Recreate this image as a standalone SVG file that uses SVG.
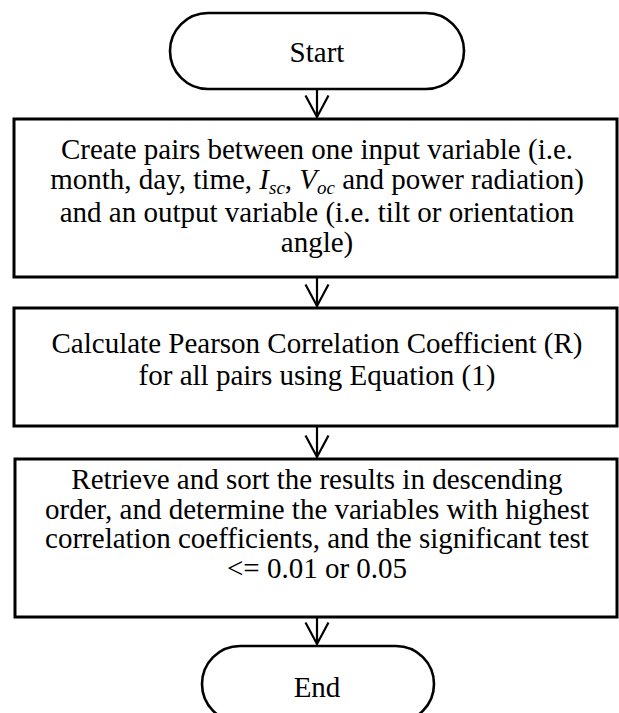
<svg xmlns="http://www.w3.org/2000/svg" width="619" height="713" viewBox="0 0 619 713">
<style>
  .box { fill: #fff; stroke: #000; stroke-width: 3; }
  .term { fill: #fff; stroke: #000; stroke-width: 2.6; }
  .t { font-family: "Liberation Serif", "Times New Roman", serif; font-size: 29px; fill: #000; text-anchor: middle; }
  .it { font-style: italic; }
  .sub { font-style: italic; font-size: 19px; }
  .conn { stroke: #000; stroke-width: 2.2; fill: none; marker-end: url(#v); }
</style>
<defs>
  <marker id="v" markerUnits="userSpaceOnUse" viewBox="-25 -14 28 28" markerWidth="28" markerHeight="28" refX="0" refY="0" orient="auto">
    <path d="M -21.5 -11.5 L 0 0 L -21.5 11.5" fill="none" stroke="#000" stroke-width="2.2" stroke-linejoin="miter"/>
  </marker>
</defs>
<rect width="619" height="713" fill="#fff"/>

<g id="connectors">
  <line class="conn" x1="317" y1="90" x2="317" y2="117"/>
  <line class="conn" x1="317" y1="278" x2="317" y2="306"/>
  <line class="conn" x1="317" y1="427" x2="317" y2="457"/>
  <line class="conn" x1="317" y1="618" x2="317" y2="644"/>
</g>

<g id="start">
  <rect class="term" x="170" y="13" width="294" height="76" rx="38" ry="38"/>
  <text class="t" x="317" y="62">Start</text>
</g>

<g id="create-pairs">
  <rect class="box" x="14" y="119" width="603" height="158"/>
  <text class="t" x="317" y="159">Create pairs between one input variable (i.e.</text>
  <text class="t" x="317" y="189">month, day, time, <tspan class="it">I</tspan><tspan class="sub" dy="5">sc</tspan><tspan dy="-5">, </tspan><tspan class="it">V</tspan><tspan class="sub" dy="5">oc</tspan><tspan dy="-5"> and power radiation)</tspan></text>
  <text class="t" x="317" y="222">and an output variable (i.e. tilt or orientation</text>
  <text class="t" x="317" y="252">angle)</text>
</g>

<g id="calculate">
  <rect class="box" x="14" y="308" width="603" height="118"/>
  <text class="t" x="317" y="353">Calculate Pearson Correlation Coefficient (R)</text>
  <text class="t" x="317" y="385">for all pairs using Equation (1)</text>
</g>

<g id="retrieve">
  <rect class="box" x="15" y="459" width="602" height="158"/>
  <text class="t" x="317" y="489">Retrieve and sort the results in descending</text>
  <text class="t" x="317" y="519">order, and determine the variables with highest</text>
  <text class="t" x="317" y="548">correlation coefficients, and the significant test</text>
  <text class="t" x="317" y="578">&lt;= 0.01 or 0.05</text>
</g>

<g id="end">
  <rect class="term" x="202" y="646" width="232" height="76" rx="38" ry="38"/>
  <text class="t" x="317" y="697">End</text>
</g>
</svg>
